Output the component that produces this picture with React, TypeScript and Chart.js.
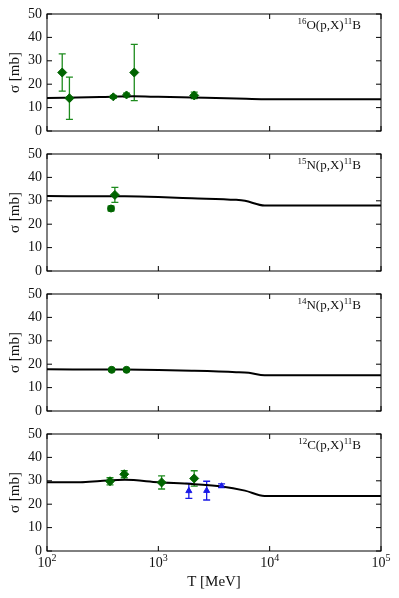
import React, { useEffect, useRef } from "react";
import { Chart, registerables } from "chart.js";
Chart.register(...registerables);

const FONT = "'Liberation Serif', 'DejaVu Serif', serif";

// axes
const xTickValues = [100, 1000, 10000, 100000];
const xTickExponents = ["2", "3", "4", "5"];
const yTickValues = [0, 10, 20, 30, 40, 50];

// reaction labels
const massNumbers = ["16", "15", "14", "12"];
const targets = ["O", "N", "N", "C"];

// model curves (T in MeV, sigma in mb)
const o16CurveT = [100, 300, 600, 1000, 2000, 5000, 9000, 100000];
const o16CurveS = [14.1, 14.5, 14.8, 14.6, 14.3, 13.9, 13.6, 13.6];
const n15CurveT = [100, 500, 1000, 2000, 5000, 6000, 9000, 100000];
const n15CurveS = [32.0, 31.9, 31.6, 31.1, 30.4, 30.0, 28.0, 28.0];
const n14CurveT = [100, 500, 1000, 2000, 5000, 6500, 9000, 100000];
const n14CurveS = [17.8, 17.7, 17.5, 17.2, 16.6, 16.3, 15.3, 15.3];
const c12CurveT = [100, 200, 300, 500, 1000, 2000, 3700, 6000, 9000, 100000];
const c12CurveS = [29.4, 29.4, 29.9, 30.4, 29.4, 28.6, 27.6, 25.8, 23.5, 23.5];

// experimental data (green)
const o16ExpT = [137, 159, 394, 518, 608, 2100];
const o16ExpS = [25, 14, 14.6, 15.4, 25, 15.2];
const o16ExpE = [8, 9, 0.6, 0.8, 12, 1.4];
const n15ExpT = [376, 407];
const n15ExpS = [26.7, 32.5];
const n15ExpE = [1.0, 3.2];
const n14ExpT = [381, 518];
const n14ExpS = [17.6, 17.6];
const n14ExpE = [0.4, 0.4];
const c12ExpT = [368, 494, 1070, 2100];
const c12ExpS = [29.8, 32.8, 29.3, 31.0];
const c12ExpE = [1.5, 1.5, 2.8, 3.3];
// experimental data (blue)
const c12Exp2T = [1880, 2717, 3700];
const c12Exp2S = [25.7, 25.8, 27.9];
const c12Exp2E = [3.2, 4.0, 0.8];

const GREEN_FILL = "#006400";
const GREEN_ERR = "#1e8c1e";
const BLUE = "#1a1ae6";

type Exp = { T: number[]; S: number[]; E: number[]; fill: string; err: string; style: string[]; radius: number[] };
type PanelDef = { curveT: number[]; curveS: number[]; exps: Exp[] };

const panels: PanelDef[] = [
  {
    curveT: o16CurveT, curveS: o16CurveS,
    exps: [{ T: o16ExpT, S: o16ExpS, E: o16ExpE, fill: GREEN_FILL, err: GREEN_ERR,
      style: ["rectRot", "rectRot", "rectRot", "rectRot", "rectRot", "rectRot"], radius: [4.5, 4.5, 4, 4, 4.5, 4.5] }],
  },
  {
    curveT: n15CurveT, curveS: n15CurveS,
    exps: [{ T: n15ExpT, S: n15ExpS, E: n15ExpE, fill: GREEN_FILL, err: GREEN_ERR,
      style: ["circle", "rectRot"], radius: [3.5, 4.5] }],
  },
  {
    curveT: n14CurveT, curveS: n14CurveS,
    exps: [{ T: n14ExpT, S: n14ExpS, E: n14ExpE, fill: GREEN_FILL, err: GREEN_ERR,
      style: ["circle", "circle"], radius: [3.5, 3.5] }],
  },
  {
    curveT: c12CurveT, curveS: c12CurveS,
    exps: [
      { T: c12ExpT, S: c12ExpS, E: c12ExpE, fill: GREEN_FILL, err: GREEN_ERR,
        style: ["rectRot", "rectRot", "rectRot", "rectRot"], radius: [4.5, 4.5, 4.5, 4.5] },
      { T: c12Exp2T, S: c12Exp2S, E: c12Exp2E, fill: BLUE, err: BLUE,
        style: ["triangle", "triangle", "triangle"], radius: [3.5, 3.5, 3] },
    ],
  },
];

function drawRich(ctx: CanvasRenderingContext2D, parts: [string, boolean][], x: number, y: number,
  align: "left" | "center" | "right", base: number, sup: number, raise: number) {
  const widths = parts.map(([t, s]) => {
    ctx.font = `${s ? sup : base}px ${FONT}`;
    return ctx.measureText(t).width;
  });
  const total = widths.reduce((a, b) => a + b, 0);
  let cx = align === "right" ? x - total : align === "center" ? x - total / 2 : x;
  ctx.textAlign = "left";
  ctx.textBaseline = "alphabetic";
  parts.forEach(([t, s], i) => {
    ctx.font = `${s ? sup : base}px ${FONT}`;
    ctx.fillText(t, cx, s ? y - raise : y);
    cx += widths[i];
  });
}

const errorBarPlugin = {
  id: "errbars",
  beforeDatasetsDraw(chart: any) {
    const { ctx } = chart;
    const xs = chart.scales.x, ys = chart.scales.y;
    chart.data.datasets.forEach((ds: any) => {
      if (!ds.errors) return;
      ctx.save();
      ctx.strokeStyle = ds.errColor;
      ctx.lineWidth = 1.3;
      ds.data.forEach((p: any, i: number) => {
        const px = xs.getPixelForValue(p.x);
        const yt = ys.getPixelForValue(p.y + ds.errors[i]);
        const yb = ys.getPixelForValue(p.y - ds.errors[i]);
        ctx.beginPath();
        ctx.moveTo(px, yt); ctx.lineTo(px, yb);
        ctx.moveTo(px - 3.5, yt); ctx.lineTo(px + 3.5, yt);
        ctx.moveTo(px - 3.5, yb); ctx.lineTo(px + 3.5, yb);
        ctx.stroke();
      });
      ctx.restore();
    });
  },
};

function makeFramePlugin(idx: number, bottom: boolean) {
  return {
    id: "frame" + idx,
    afterDraw(chart: any) {
      const { ctx, chartArea } = chart;
      const { left, right, top, bottom: bot } = chartArea;
      const xs = chart.scales.x, ys = chart.scales.y;
      ctx.save();
      ctx.strokeStyle = "#000";
      ctx.lineWidth = 1;
      ctx.strokeRect(left, top, right - left, bot - top);
      ctx.beginPath();
      xTickValues.forEach((v) => {
        const px = xs.getPixelForValue(v);
        ctx.moveTo(px, bot); ctx.lineTo(px, bot - 5);
        ctx.moveTo(px, top); ctx.lineTo(px, top + 5);
      });
      yTickValues.forEach((v) => {
        const py = ys.getPixelForValue(v);
        ctx.moveTo(left, py); ctx.lineTo(left + 5, py);
        ctx.moveTo(right, py); ctx.lineTo(right - 5, py);
      });
      ctx.stroke();
      ctx.fillStyle = "#111";
      drawRich(ctx, [[massNumbers[idx], true], [targets[idx] + "(p,X)", false], ["11", true], ["B", false]],
        right - 20, top + 15, "right", 13, 9, 5);
      if (bottom) {
        xTickValues.forEach((v, i) => {
          const px = xs.getPixelForValue(v);
          drawRich(ctx, [["10", false], [xTickExponents[i], true]], px, bot + 16, "center", 14, 10, 6);
        });
      }
      ctx.restore();
    },
  };
}

function Panel({ idx, height, bottom }: { idx: number; height: number; bottom: boolean }) {
  const ref = useRef<HTMLCanvasElement>(null);
  useEffect(() => {
    const p = panels[idx];
    const datasets: any[] = p.exps.map((e) => ({
      type: "scatter",
      data: e.T.map((t, i) => ({ x: t, y: e.S[i] })),
      errors: e.E,
      errColor: e.err,
      pointStyle: e.style,
      pointRadius: e.radius,
      backgroundColor: e.fill,
      borderColor: e.fill,
      borderWidth: 1,
      order: 0,
    }));
    datasets.push({
      type: "line",
      data: p.curveT.map((t, i) => ({ x: t, y: p.curveS[i] })),
      borderColor: "#000",
      borderWidth: 2,
      pointRadius: 0,
      fill: false,
      cubicInterpolationMode: "monotone",
      order: 1,
    });
    const chart = new Chart(ref.current as HTMLCanvasElement, {
      type: "scatter",
      data: { datasets },
      options: {
        responsive: false,
        maintainAspectRatio: false,
        animation: false,
        devicePixelRatio: 1,
        events: [],
        layout: { padding: { top: 14, right: 18, bottom: 0, left: 0 } },
        plugins: { legend: { display: false }, tooltip: { enabled: false } },
        scales: {
          x: {
            type: "logarithmic",
            min: 100,
            max: 100000,
            display: true,
            grid: { display: false, drawTicks: false },
            border: { display: false },
            ticks: { display: false },
            afterBuildTicks: (s: any) => { s.ticks = xTickValues.map((v) => ({ value: v })); },
            afterFit: (s: any) => { s.height = bottom ? 47 : 9; s.paddingLeft = 0; s.paddingRight = 0; },
            title: { display: bottom, text: "T [MeV]", color: "#111", font: { family: FONT, size: 15 }, padding: { top: 0, bottom: 7 } },
          },
          y: {
            min: 0,
            max: 50,
            grid: { display: false, drawTicks: false },
            border: { display: false },
            afterBuildTicks: (s: any) => { s.ticks = yTickValues.map((v) => ({ value: v })); },
            ticks: { color: "#111", padding: 5, autoSkip: false, font: { family: FONT, size: 14 } },
            afterFit: (s: any) => { s.width = 47; s.paddingTop = 0; s.paddingBottom = 0; },
            title: { display: true, text: "σ [mb]", color: "#111", font: { family: FONT, size: 15 }, padding: { top: 6, bottom: 0 } },
          },
        } as any,
      },
      plugins: [errorBarPlugin, makeFramePlugin(idx, bottom)],
    } as any);
    return () => chart.destroy();
  }, [idx, height, bottom]);
  return (
    <canvas
      ref={ref}
      width={399}
      height={height}
      style={{ position: "absolute", left: 0, top: idx * 140, width: 399, height }}
    />
  );
}

export default function App() {
  return (
    <div style={{ position: "fixed", left: 0, top: 0, width: 399, height: 598, background: "#fff" }}>
      <Panel idx={0} height={140} bottom={false} />
      <Panel idx={1} height={140} bottom={false} />
      <Panel idx={2} height={140} bottom={false} />
      <Panel idx={3} height={178} bottom={true} />
    </div>
  );
}
